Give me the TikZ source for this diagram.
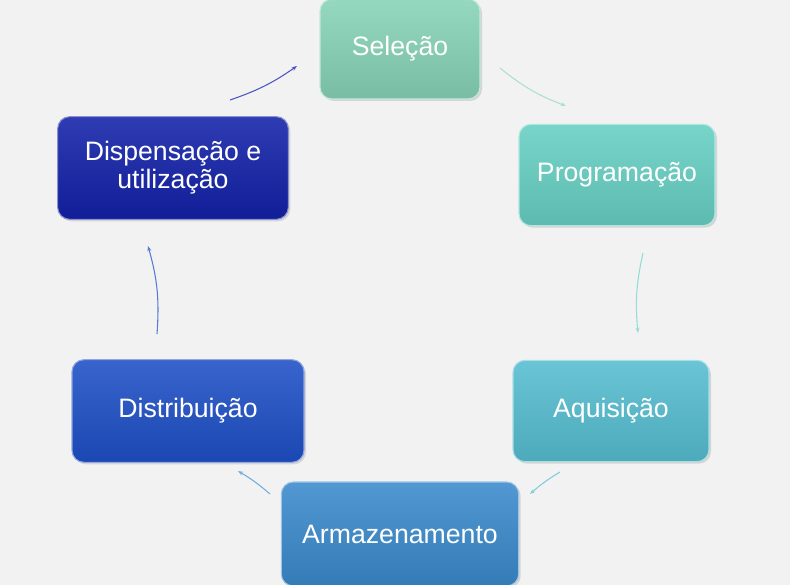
\documentclass[tikz,border=0pt]{standalone}
\usepackage{fontspec}
\setmainfont{Liberation Sans}
\usepackage{xcolor}
\usetikzlibrary{arrows.meta,shadows}
\definecolor{selc}{HTML}{86D3B6}
\definecolor{progc}{HTML}{66CFC3}
\definecolor{aquc}{HTML}{55BDD0}
\definecolor{armc}{HTML}{3A8ACC}
\definecolor{disc}{HTML}{1E4FC6}
\definecolor{dspc}{HTML}{1221A8}
\definecolor{bgc}{HTML}{F2F2F2}

\begin{document}
\begin{tikzpicture}
[
x=0.75pt, y=-0.75pt,
stepbox/.style={rectangle, rounded corners=9pt, draw=#1!50!white, line width=0.8pt,
  top color=#1!88!white, bottom color=#1!90!black, text=white, font=\fontsize{20}{21}\selectfont,
  align=center, drop shadow={opacity=0.25, shadow xshift=1.5pt, shadow yshift=-1.5pt}},
cycarrow/.style={line width=0.8pt, -{Stealth[length=4pt,width=3pt]}},
]
\useasboundingbox[fill=bgc] (0,0) rectangle (790,585);

\node at (400,49) [stepbox=selc, minimum width=120pt, minimum height=75pt] (sel) {Seleção};
\node at (617,175) [stepbox=progc, minimum width=147pt, minimum height=76pt] (prog) {Programação};
\node at (611,411) [stepbox=aquc, minimum width=147pt, minimum height=76pt] (aqu) {Aquisição};
\node at (400,534) [stepbox=armc, minimum width=178pt, minimum height=78pt] (arm) {Armazenamento};
\node at (188,411) [stepbox=disc, minimum width=174pt, minimum height=77pt] (dist) {Distribuição};
\node at (173,168) [stepbox=dspc, minimum width=173pt, minimum height=77pt] (disp) {Dispensação e\\utilização};

\coordinate (sel-out) at (500,68);   \coordinate (prog-in) at (566,106);
\coordinate (prog-out) at (643,253); \coordinate (aqu-in) at (638,333);
\coordinate (aqu-out) at (560,472);  \coordinate (arm-in) at (530,494);
\coordinate (arm-out) at (270,494);  \coordinate (dist-in) at (238,471);
\coordinate (dist-out) at (157,334); \coordinate (disp-in) at (148,246);
\coordinate (disp-out) at (230,100); \coordinate (sel-in) at (297,66);

\draw[cycarrow, color=selc!70!white] (sel-out) to[bend right=9] (prog-in);
\draw[cycarrow, color=progc!70!white] (prog-out) to[bend right=9] (aqu-in);
\draw[cycarrow, color=aquc!75!white] (aqu-out) to[bend right=5] (arm-in);
\draw[cycarrow, color=armc!70!white] (arm-out) to[bend right=5] (dist-in);
\draw[cycarrow, color=disc!75!white] (dist-out) to[bend right=10] (disp-in);
\draw[cycarrow, color=dspc!75!white] (disp-out) to[bend right=8] (sel-in);
\end{tikzpicture}
\end{document}
